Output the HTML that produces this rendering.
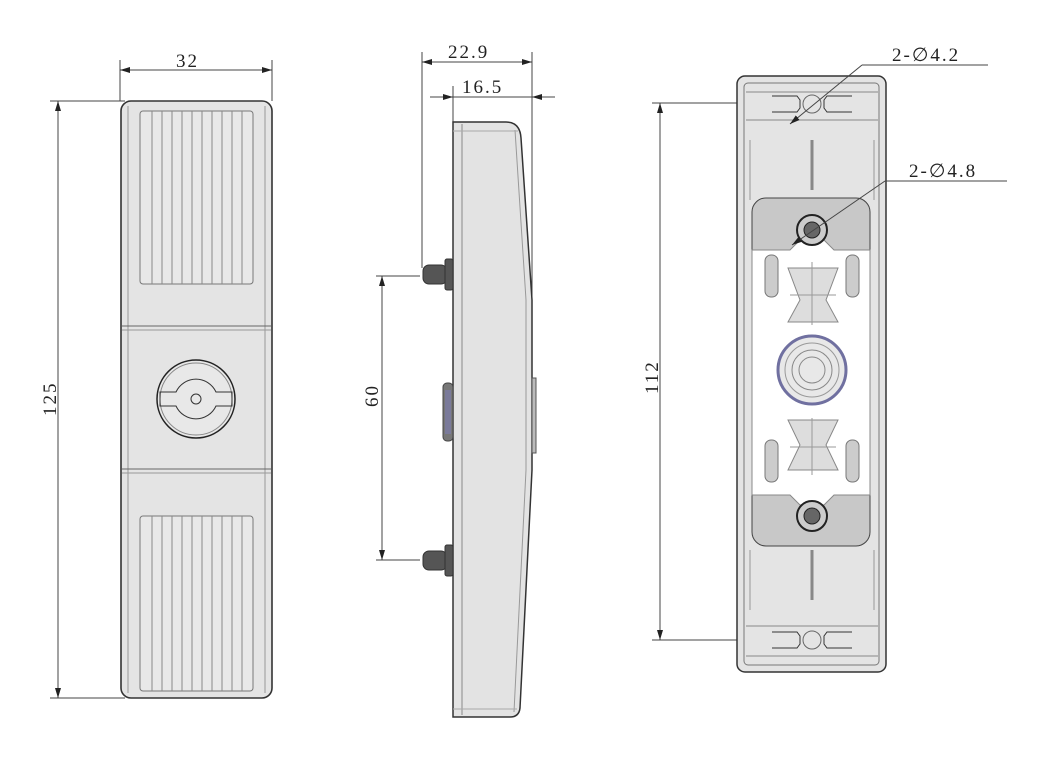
<!DOCTYPE html>
<html><head><meta charset="utf-8"><style>
html,body{margin:0;padding:0;background:#fff;}
svg{display:block}
text{font-family:"Liberation Serif",serif;font-size:19px;fill:#222;letter-spacing:2px}
</style></head><body>
<svg width="1060" height="758" viewBox="0 0 1060 758" xmlns="http://www.w3.org/2000/svg">
<defs>
<marker id="a" markerWidth="10" markerHeight="6" refX="10" refY="3" orient="auto-start-reverse" markerUnits="userSpaceOnUse"><path d="M0,0 L10,3 L0,6z" fill="#222"/></marker>
</defs>
<g stroke="#444" stroke-width="1" fill="none">
<!-- FRONT VIEW -->
<line x1="120" y1="60" x2="120" y2="101"/><line x1="272" y1="60" x2="272" y2="101"/>
<line x1="120" y1="70" x2="272" y2="70" marker-start="url(#a)" marker-end="url(#a)"/>
<line x1="50" y1="101" x2="125" y2="101"/><line x1="50" y1="698" x2="125" y2="698"/>
<line x1="58" y1="101" x2="58" y2="698" marker-start="url(#a)" marker-end="url(#a)"/>
<rect x="121" y="101" width="151" height="597" rx="10" fill="#e4e4e4" stroke="#333" stroke-width="1.6"/>
<line x1="128" y1="106" x2="128" y2="693" stroke="#999"/><line x1="265" y1="106" x2="265" y2="693" stroke="#999"/>
<rect x="140" y="111" width="113" height="173" rx="3" fill="#e8e8e8" stroke="#777"/>
<rect x="140" y="516" width="113" height="175" rx="3" fill="#e8e8e8" stroke="#777"/>
<g stroke="#888">
<line x1="152" y1="111" x2="152" y2="284"/><line x1="162" y1="111" x2="162" y2="284"/>
<line x1="172" y1="111" x2="172" y2="284"/><line x1="182" y1="111" x2="182" y2="284"/>
<line x1="192" y1="111" x2="192" y2="284"/><line x1="202" y1="111" x2="202" y2="284"/>
<line x1="212" y1="111" x2="212" y2="284"/><line x1="222" y1="111" x2="222" y2="284"/>
<line x1="232" y1="111" x2="232" y2="284"/><line x1="242" y1="111" x2="242" y2="284"/>
<line x1="152" y1="516" x2="152" y2="691"/><line x1="162" y1="516" x2="162" y2="691"/>
<line x1="172" y1="516" x2="172" y2="691"/><line x1="182" y1="516" x2="182" y2="691"/>
<line x1="192" y1="516" x2="192" y2="691"/><line x1="202" y1="516" x2="202" y2="691"/>
<line x1="212" y1="516" x2="212" y2="691"/><line x1="222" y1="516" x2="222" y2="691"/>
<line x1="232" y1="516" x2="232" y2="691"/><line x1="242" y1="516" x2="242" y2="691"/>
</g>
<line x1="122" y1="326" x2="271" y2="326" stroke="#666"/><line x1="122" y1="330" x2="271" y2="330" stroke="#999"/>
<line x1="122" y1="469" x2="271" y2="469" stroke="#666"/><line x1="122" y1="473" x2="271" y2="473" stroke="#999"/>
<circle cx="196" cy="399" r="39" fill="#e8e8e8" stroke="#222" stroke-width="1.5"/>
<circle cx="196" cy="399" r="36" stroke="#888"/>
<path d="M160,392 H176 A22,22 0 0 1 216,392 H232 V406 H216 A22,22 0 0 1 176,406 H160Z" stroke="#333"/>
<circle cx="196" cy="399" r="5" stroke="#333"/>
<!-- SIDE VIEW -->
<line x1="422" y1="52" x2="422" y2="268"/><line x1="532" y1="52" x2="532" y2="300"/>
<line x1="453" y1="86" x2="453" y2="122"/>
<line x1="422" y1="62" x2="532" y2="62" marker-start="url(#a)" marker-end="url(#a)"/>
<line x1="430" y1="97" x2="453" y2="97" marker-end="url(#a)"/>
<line x1="555" y1="97" x2="532" y2="97" marker-end="url(#a)"/>
<line x1="453" y1="97" x2="532" y2="97"/>
<line x1="376" y1="276" x2="420" y2="276"/><line x1="376" y1="560" x2="420" y2="560"/>
<line x1="382" y1="276" x2="382" y2="560" marker-start="url(#a)" marker-end="url(#a)"/>
<path d="M453,122 H506 Q520,122 521,138 L532,300 V470 L520,708 Q519,717 510,717 H453Z" fill="#e3e3e3" stroke="#333" stroke-width="1.5"/>
<line x1="462" y1="124" x2="462" y2="715" stroke="#888"/>
<path d="M515,130 L526,300 V470 L514,712" stroke="#999"/>
<line x1="453" y1="131" x2="518" y2="131" stroke="#aaa"/>
<line x1="453" y1="709" x2="517" y2="709" stroke="#aaa"/>
<rect x="532" y="378" width="4" height="75" fill="#bbb" stroke="#555"/>
<rect x="443" y="383" width="10" height="58" rx="4" fill="#777" stroke="#444"/>
<rect x="445" y="390" width="6" height="44" fill="#7a7a9a" stroke="none"/>
<g fill="#555" stroke="#333">
<rect x="423" y="265" width="24" height="19" rx="6"/><rect x="445" y="259" width="8" height="31" rx="2"/>
<rect x="423" y="551" width="24" height="19" rx="6"/><rect x="445" y="545" width="8" height="31" rx="2"/>
</g>
<!-- BACK VIEW -->
<line x1="652" y1="103" x2="806" y2="103"/><line x1="652" y1="640" x2="806" y2="640"/>
<line x1="660" y1="103" x2="660" y2="640" marker-start="url(#a)" marker-end="url(#a)"/>
<rect x="737" y="76" width="149" height="596" rx="8" fill="#e4e4e4" stroke="#333" stroke-width="1.5"/>
<rect x="744" y="83" width="135" height="582" rx="4" stroke="#777"/>
<path d="M746,92 H878 M746,120 H878 M746,626 H878 M746,656 H878" stroke="#888"/>
<path d="M772,96 H797 L800,100 V108 L797,112 H772 M852,96 H827 L824,100 V108 L827,112 H852" stroke="#333"/>
<path d="M772,632 H797 L800,636 V644 L797,648 H772 M852,632 H827 L824,636 V644 L827,648 H852" stroke="#333"/>
<circle cx="812" cy="104" r="9" stroke="#666"/><circle cx="812" cy="640" r="9" stroke="#666"/>
<path d="M812,140 V190 M812,550 V600" stroke="#888" stroke-width="3"/>
<path d="M750,140 V200 M874,140 V200 M750,550 V610 M874,550 V610" stroke="#999"/>
<rect x="752" y="198" width="118" height="348" rx="14" fill="#c8c8c8" stroke="#444"/>
<path d="M752,250 H790 L800,240 H824 L834,250 H870 V495 H834 L824,505 H800 L790,495 H752Z" fill="#fff" stroke="#888"/>
<path d="M788,268 L838,268 L826,300 L838,322 L788,322 L800,300Z" fill="#ddd" stroke="#888"/>
<path d="M788,420 L838,420 L826,445 L838,470 L788,470 L800,445Z" fill="#ddd" stroke="#888"/>
<path d="M812,262 V325 M812,418 V475 M790,295 H836 M790,447 H836" stroke="#999"/>
<rect x="765" y="255" width="13" height="42" rx="6" fill="#ccc" stroke="#777"/>
<rect x="846" y="255" width="13" height="42" rx="6" fill="#ccc" stroke="#777"/>
<rect x="765" y="440" width="13" height="42" rx="6" fill="#ccc" stroke="#777"/>
<rect x="846" y="440" width="13" height="42" rx="6" fill="#ccc" stroke="#777"/>
<circle cx="812" cy="370" r="34" fill="#e8e8e8" stroke="#7070a0" stroke-width="3"/>
<circle cx="812" cy="370" r="27" stroke="#999"/><circle cx="812" cy="370" r="20" stroke="#888"/><circle cx="812" cy="370" r="13" stroke="#888"/>
<circle cx="812" cy="230" r="15" fill="#ccc" stroke="#222" stroke-width="2"/><circle cx="812" cy="230" r="8" fill="#666" stroke="#222"/>
<circle cx="812" cy="516" r="15" fill="#ccc" stroke="#222" stroke-width="2"/><circle cx="812" cy="516" r="8" fill="#666" stroke="#222"/>
<!-- leaders -->
<line x1="862" y1="65" x2="988" y2="65"/>
<line x1="862" y1="65" x2="790" y2="124" marker-end="url(#a)"/>
<line x1="885" y1="181" x2="1007" y2="181"/>
<line x1="885" y1="181" x2="792" y2="245" marker-end="url(#a)"/>
</g>
<text x="176" y="67">32</text>
<text x="0" y="0" transform="translate(56,416) rotate(-90)">125</text>
<text x="448" y="58">22.9</text>
<text x="462" y="93">16.5</text>
<text x="0" y="0" transform="translate(378,407) rotate(-90)">60</text>
<text x="0" y="0" transform="translate(658,394) rotate(-90)">112</text>
<text x="892" y="61">2-∅4.2</text>
<text x="909" y="177">2-∅4.8</text>
</svg>
</body></html>
